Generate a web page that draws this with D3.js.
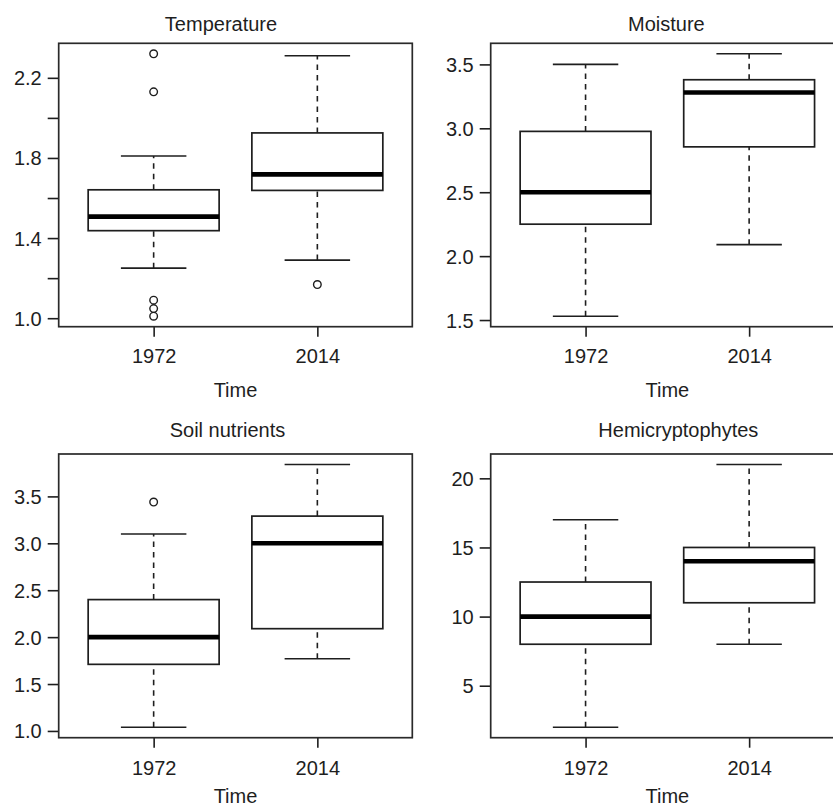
<!DOCTYPE html>
<html>
<head>
<meta charset="utf-8">
<script src="https://cdn.jsdelivr.net/npm/d3@7"></script>
<style>
  body { margin: 0; background: #fff; }
  svg { display: block; font-family: "Liberation Sans", Arial, sans-serif; }
</style>
</head>
<body>
<svg id="chart" width="833" height="806"></svg>
<script>
// values: [lower whisker, Q1, median, Q3, upper whisker]
const years = ["1972", "2014"];
const titles = ["Temperature", "Moisture", "Soil nutrients", "Hemicryptophytes"];

const tempStats = [[1.25, 1.437, 1.507, 1.641, 1.81], [1.29, 1.638, 1.718, 1.925, 2.31]];
const tempOutliers = [[2.32, 2.13, 1.09, 1.048, 1.01], [1.168]];
const tempTicks = [1.0, 1.2, 1.4, 1.6, 1.8, 2.0, 2.2];
const tempLabels = [1.0, 1.4, 1.8, 2.2];

const moistStats = [[1.53, 2.25, 2.5, 2.976, 3.5], [2.09, 2.855, 3.28, 3.38, 3.583]];
const moistOutliers = [[], []];
const moistTicks = [1.5, 2.0, 2.5, 3.0, 3.5];

const soilStats = [[1.04, 1.71, 2.0, 2.4, 3.1], [1.77, 2.09, 3.0, 3.29, 3.84]];
const soilOutliers = [[3.44], []];
const soilTicks = [1.0, 1.5, 2.0, 2.5, 3.0, 3.5];

const hemiStats = [[2, 8, 10, 12.5, 17], [8, 11, 14, 15, 21]];
const hemiOutliers = [[], []];
const hemiTicks = [5, 10, 15, 20];

const svg = d3.select("#chart");
const ink = "#1e1e1e";
const fontSize = 20;

// panel layout (plot regions)
const cols = [{ left: 58.7, right: 412.3 }, { left: 490.7, right: 844 }];
const rows = [
  { top: 43.3, bottom: 326.7, titleY: 31, tickY: 363.3, labelY: 396.7 },
  { top: 454, bottom: 737.7, titleY: 437.3, tickY: 775, labelY: 802.7 }
];
const titleShift = [-14.5, -1, -8, 11];

function drawPanel(i, stats, outliers, ticks, labels, fmt) {
  const c = cols[i % 2], r = rows[Math.floor(i / 2)];
  const g = svg.append("g");

  // R style: extend data range by 4% on each side
  const all = stats.flat().concat(outliers.flat());
  const lo = d3.min(all), hi = d3.max(all), pad = (hi - lo) * 0.04;
  const y = d3.scaleLinear().domain([lo - pad, hi + pad]).range([r.bottom, r.top]);
  const x = d3.scaleLinear().domain([0.42, 2.58]).range([c.left, c.right]);

  // y axis
  const yAxis = g.append("g")
    .attr("transform", `translate(${c.left},0)`)
    .call(d3.axisLeft(y).tickValues(ticks).tickSize(11).tickPadding(6)
      .tickFormat(d => labels.some(l => Math.abs(l - d) < 1e-9) ? fmt(d) : ""));
  yAxis.select(".domain").remove();
  yAxis.selectAll("line").attr("stroke", ink).attr("stroke-width", 1.6);
  yAxis.selectAll("text").attr("fill", ink).style("font-size", fontSize + "px")
    .attr("dy", "0.35em");

  // x axis
  const xAxis = g.append("g")
    .attr("transform", `translate(0,${r.bottom})`)
    .call(d3.axisBottom(x).tickValues([1, 2]).tickSize(10).tickFormat(d => years[d - 1]));
  xAxis.select(".domain").remove();
  xAxis.selectAll("line").attr("stroke", ink).attr("stroke-width", 1.6);
  xAxis.selectAll("text").attr("fill", ink).style("font-size", fontSize + "px")
    .attr("y", r.tickY - r.bottom).attr("dy", null);

  // boxes
  stats.forEach((s, k) => {
    const cx = x(k + 1), half = x(k + 1.4) - cx, cap = x(k + 1.2) - cx;
    const [wl, q1, med, q3, wh] = s;
    // whiskers
    [[wl, q1], [q3, wh]].forEach(([a, b]) => {
      g.append("line").attr("x1", cx).attr("x2", cx).attr("y1", y(a)).attr("y2", y(b))
        .attr("stroke", ink).attr("stroke-width", 1.6).attr("stroke-dasharray", "5.5,5");
    });
    [wl, wh].forEach(v => {
      g.append("line").attr("x1", cx - cap).attr("x2", cx + cap).attr("y1", y(v)).attr("y2", y(v))
        .attr("stroke", ink).attr("stroke-width", 1.6);
    });
    g.append("rect").attr("x", cx - half).attr("width", 2 * half)
      .attr("y", y(q3)).attr("height", y(q1) - y(q3))
      .attr("fill", "#fff").attr("stroke", ink).attr("stroke-width", 1.7);
    g.append("line").attr("x1", cx - half).attr("x2", cx + half).attr("y1", y(med)).attr("y2", y(med))
      .attr("stroke", "#000").attr("stroke-width", 4.6);
    outliers[k].forEach(v => {
      g.append("circle").attr("cx", cx).attr("cy", y(v)).attr("r", 3.8)
        .attr("fill", "none").attr("stroke", ink).attr("stroke-width", 1.4);
    });
  });

  // plot frame
  g.append("rect").attr("x", c.left).attr("y", r.top)
    .attr("width", c.right - c.left).attr("height", r.bottom - r.top)
    .attr("fill", "none").attr("stroke", "#2a2a2a").attr("stroke-width", 1.7);

  const mid = (c.left + c.right) / 2;
  g.append("text").attr("x", mid + titleShift[i]).attr("y", r.titleY)
    .attr("text-anchor", "middle").attr("fill", ink).style("font-size", fontSize + "px")
    .text(titles[i]);
  g.append("text").attr("x", mid).attr("y", r.labelY)
    .attr("text-anchor", "middle").attr("fill", ink).style("font-size", fontSize + "px")
    .text("Time");
}

drawPanel(0, tempStats, tempOutliers, tempTicks, tempLabels, d3.format(".1f"));
drawPanel(1, moistStats, moistOutliers, moistTicks, moistTicks, d3.format(".1f"));
drawPanel(2, soilStats, soilOutliers, soilTicks, soilTicks, d3.format(".1f"));
drawPanel(3, hemiStats, hemiOutliers, hemiTicks, hemiTicks, d3.format("d"));
</script>
</body>
</html>
